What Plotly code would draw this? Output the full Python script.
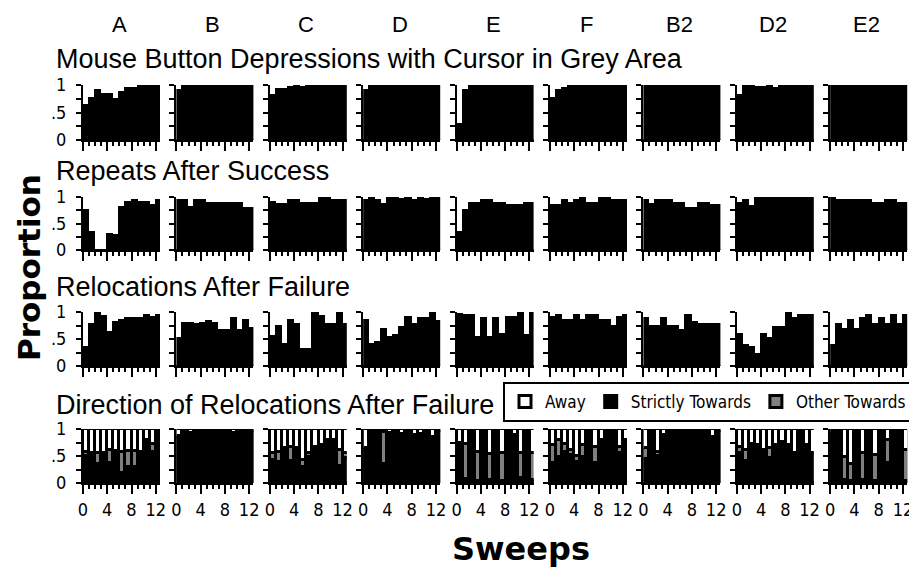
import plotly.graph_objects as go

# The page body has an 8px margin, so the figure is sized to fit the 917x569 window.
PAGE_MARGIN = 8
W, H = 917 - PAGE_MARGIN, 569 - PAGE_MARGIN

columns = ["A", "B", "C", "D", "E", "F", "B2", "D2", "E2"]
row_titles = [
    "Mouse Button Depressions with Cursor in Grey Area",
    "Repeats After Success",
    "Relocations After Failure",
    "Direction of Relocations After Failure",
]
sweeps = list(range(13))
x_tick_vals = [0, 4, 8, 12]
x_tick_text = ["0", "4", "8", "12"]
y_tick_vals = [0, 0.25, 0.5, 0.75, 1]
y_tick_text = ["0", "", ".5", "", "1"]

# Row 1: Mouse Button Depressions with Cursor in Grey Area (one list per column)
mouse_button = [
    [0.64, 0.77, 0.91, 0.83, 0.83, 0.74, 0.87, 0.95, 0.95, 1.0, 1.0, 1.0, 1.0],
    [0.91, 1.0, 1.0, 1.0, 1.0, 1.0, 1.0, 1.0, 1.0, 1.0, 1.0, 1.0, 1.0],
    [0.82, 0.92, 0.92, 0.97, 1.0, 0.97, 1.0, 1.0, 1.0, 1.0, 1.0, 1.0, 1.0],
    [0.91, 1.0, 1.0, 1.0, 1.0, 1.0, 1.0, 1.0, 1.0, 1.0, 1.0, 1.0, 1.0],
    [0.30, 0.91, 1.0, 1.0, 1.0, 1.0, 1.0, 1.0, 1.0, 1.0, 1.0, 1.0, 1.0],
    [0.77, 0.91, 0.95, 1.0, 1.0, 1.0, 1.0, 1.0, 1.0, 1.0, 1.0, 1.0, 1.0],
    [1.0, 1.0, 1.0, 1.0, 1.0, 1.0, 1.0, 1.0, 1.0, 1.0, 1.0, 1.0, 1.0],
    [0.82, 1.0, 1.0, 0.97, 0.97, 1.0, 0.95, 1.0, 1.0, 1.0, 1.0, 1.0, 1.0],
    [1.0, 1.0, 1.0, 1.0, 1.0, 1.0, 1.0, 1.0, 1.0, 1.0, 1.0, 1.0, 1.0],
]

# Row 2: Repeats After Success
repeats = [
    [0.75, 0.34, 0.0, 0.0, 0.31, 0.28, 0.81, 0.90, 0.94, 0.90, 0.90, 0.84, 0.94],
    [0.94, 0.94, 0.81, 0.94, 0.94, 0.89, 0.89, 0.89, 0.89, 0.89, 0.89, 0.80, 0.80],
    [0.90, 0.86, 0.86, 0.94, 0.94, 0.89, 0.89, 0.89, 0.99, 0.99, 0.94, 0.94, 0.94],
    [0.94, 0.99, 0.94, 0.86, 0.99, 0.99, 0.97, 0.99, 0.94, 0.99, 0.97, 0.99, 0.99],
    [0.34, 0.75, 0.89, 0.89, 0.94, 0.94, 0.89, 0.89, 0.84, 0.84, 0.84, 0.89, 0.89],
    [0.84, 0.84, 0.94, 0.89, 0.94, 0.99, 0.89, 0.89, 0.99, 0.99, 0.94, 0.94, 0.94],
    [0.94, 0.86, 0.94, 0.94, 0.94, 0.89, 0.89, 0.79, 0.79, 0.89, 0.89, 0.84, 0.84],
    [0.89, 0.94, 0.83, 0.99, 0.99, 0.99, 0.99, 0.99, 0.99, 0.99, 0.99, 0.99, 0.99],
    [1.0, 0.94, 0.94, 0.94, 0.94, 0.94, 0.94, 0.89, 0.89, 0.94, 0.94, 0.89, 0.89],
]

# Row 3: Relocations After Failure
relocations = [
    [0.35, 0.78, 0.98, 0.92, 0.63, 0.81, 0.85, 0.89, 0.89, 0.89, 0.94, 0.90, 0.94],
    [0.51, 0.80, 0.80, 0.77, 0.80, 0.83, 0.80, 0.66, 0.66, 0.89, 0.66, 0.85, 0.70],
    [0.55, 0.75, 0.40, 0.85, 0.77, 0.32, 0.32, 0.98, 0.92, 0.78, 0.78, 0.98, 0.78],
    [0.85, 0.40, 0.44, 0.69, 0.54, 0.57, 0.72, 0.90, 0.78, 0.89, 0.89, 0.98, 0.83],
    [0.97, 0.94, 0.94, 0.54, 0.88, 0.54, 0.88, 0.60, 0.91, 0.91, 0.98, 0.57, 0.98],
    [0.91, 0.94, 0.85, 0.85, 0.94, 0.85, 0.94, 0.94, 0.85, 0.85, 0.75, 0.91, 0.94],
    [0.88, 0.75, 0.75, 0.88, 0.75, 0.75, 0.66, 0.94, 0.81, 0.78, 0.78, 0.78, 0.78],
    [0.60, 0.38, 0.35, 0.23, 0.60, 0.51, 0.73, 0.73, 0.98, 0.89, 0.94, 0.94, 0.94],
    [0.38, 0.78, 0.69, 0.85, 0.69, 0.88, 0.94, 0.78, 0.88, 0.78, 0.94, 0.78, 0.94],
]

# Row 4: Direction of Relocations After Failure (stacked)
dir_strict = [
    [0.50, 0.55, 0.35, 0.55, 0.37, 0.55, 0.18, 0.30, 0.30, 0.57, 0.80, 0.58, 1.00],
    [0.85, 0.97, 0.93, 0.97, 0.95, 0.97, 0.95, 0.94, 0.97, 0.93, 0.97, 0.95, 0.97],
    [0.43, 0.38, 0.64, 0.40, 0.64, 0.30, 0.49, 0.67, 0.70, 0.79, 0.79, 0.31, 0.46],
    [0.64, 0.97, 0.97, 0.36, 0.93, 0.97, 0.90, 0.97, 0.88, 0.90, 0.97, 0.85, 0.97],
    [0.74, 0.08, 0.97, 0.03, 0.97, 0.06, 0.97, 0.03, 0.97, 0.88, 0.09, 0.97, 0.06],
    [0.37, 0.49, 0.58, 0.52, 0.38, 0.49, 0.97, 0.37, 0.80, 0.97, 0.97, 0.55, 0.80],
    [0.45, 0.97, 0.50, 0.88, 0.97, 0.94, 0.97, 0.95, 0.97, 0.94, 0.97, 0.85, 0.97],
    [0.55, 0.41, 0.73, 0.70, 0.58, 0.46, 0.70, 0.76, 0.70, 0.55, 0.97, 0.70, 0.55],
    [0.94, 0.97, 0.06, 0.03, 0.97, 0.06, 0.97, 0.03, 0.97, 0.37, 0.94, 0.97, 0.03],
]
dir_other = [
    [0.08, 0.00, 0.20, 0.00, 0.25, 0.05, 0.40, 0.30, 0.30, 0.00, 0.00, 0.15, 0.00],
    [0.02, 0.00, 0.00, 0.00, 0.00, 0.00, 0.00, 0.00, 0.00, 0.00, 0.00, 0.00, 0.00],
    [0.12, 0.20, 0.00, 0.27, 0.00, 0.12, 0.06, 0.00, 0.00, 0.00, 0.00, 0.30, 0.09],
    [0.00, 0.00, 0.00, 0.58, 0.00, 0.00, 0.00, 0.00, 0.00, 0.00, 0.00, 0.00, 0.00],
    [0.00, 0.64, 0.00, 0.55, 0.00, 0.48, 0.00, 0.52, 0.00, 0.00, 0.46, 0.00, 0.50],
    [0.33, 0.30, 0.15, 0.09, 0.12, 0.21, 0.00, 0.30, 0.00, 0.00, 0.00, 0.12, 0.00],
    [0.20, 0.00, 0.08, 0.00, 0.00, 0.00, 0.00, 0.00, 0.00, 0.00, 0.00, 0.00, 0.00],
    [0.12, 0.20, 0.00, 0.00, 0.03, 0.18, 0.00, 0.00, 0.00, 0.00, 0.00, 0.00, 0.00],
    [0.00, 0.00, 0.42, 0.33, 0.00, 0.49, 0.00, 0.48, 0.00, 0.43, 0.00, 0.00, 0.58],
]
dir_away = [
    [0.42, 0.45, 0.45, 0.45, 0.38, 0.40, 0.42, 0.40, 0.40, 0.43, 0.20, 0.27, 0.00],
    [0.13, 0.03, 0.07, 0.03, 0.05, 0.03, 0.05, 0.06, 0.03, 0.07, 0.03, 0.05, 0.03],
    [0.45, 0.42, 0.36, 0.33, 0.36, 0.58, 0.45, 0.33, 0.30, 0.21, 0.21, 0.39, 0.45],
    [0.36, 0.03, 0.03, 0.06, 0.07, 0.03, 0.10, 0.03, 0.12, 0.10, 0.03, 0.15, 0.03],
    [0.26, 0.28, 0.03, 0.42, 0.03, 0.46, 0.03, 0.45, 0.03, 0.12, 0.45, 0.03, 0.44],
    [0.30, 0.21, 0.27, 0.39, 0.50, 0.30, 0.03, 0.33, 0.20, 0.03, 0.03, 0.33, 0.20],
    [0.35, 0.03, 0.42, 0.12, 0.03, 0.06, 0.03, 0.05, 0.03, 0.06, 0.03, 0.15, 0.03],
    [0.33, 0.39, 0.27, 0.30, 0.39, 0.36, 0.30, 0.24, 0.30, 0.45, 0.03, 0.30, 0.45],
    [0.06, 0.03, 0.52, 0.64, 0.03, 0.45, 0.03, 0.49, 0.03, 0.20, 0.06, 0.03, 0.39],
]

# ---- geometry (screen pixels of the 917x569 window) ----
col_left = [83 + 93.4 * c for c in range(9)]
panel_w = 77
row_top = [85, 197, 312, 429]
row_bot = [140, 250, 366, 483]
title_y = [59, 171, 287, 405]


def px(x):
    return (x - PAGE_MARGIN) / W


def py(y):
    return 1 - (y - PAGE_MARGIN) / H


FONT = "Liberation Sans Narrow, DejaVu Sans Condensed, Liberation Sans, Arial, sans-serif"
FONT_REG = "Liberation Sans, Arial, sans-serif"
FONT_BOLD = "DejaVu Sans, Liberation Sans, sans-serif"

fig = go.Figure()
layout = {}

single_rows = [mouse_button, repeats, relocations]

for r in range(4):
    for c in range(9):
        k = r * 9 + c + 1
        xa = f"x{k}"
        ya = f"y{k}"
        layout[f"xaxis{k}"] = dict(
            domain=[px(col_left[c]), px(col_left[c] + panel_w)], anchor=ya,
            range=[0, 12.7],
            showline=True, linecolor="black", linewidth=2,
            showgrid=False, zeroline=False,
            tickmode="array", tickvals=x_tick_vals, ticktext=x_tick_text,
            ticks="outside", ticklen=9, tickwidth=2, tickcolor="black",
            minor=dict(dtick=1, tick0=0, ticks="outside", ticklen=4,
                       tickwidth=2, tickcolor="black", showgrid=False),
            showticklabels=(r == 3),
            tickfont=dict(family=FONT, size=18, color="black"),
            fixedrange=True, automargin=False,
        )
        layout[f"yaxis{k}"] = dict(
            domain=[py(row_bot[r]), py(row_top[r])], anchor=xa, range=[0, 1],
            showline=True, linecolor="black", linewidth=2,
            showgrid=False, zeroline=False,
            tickmode="array", tickvals=y_tick_vals, ticktext=y_tick_text,
            ticks="outside", ticklen=5, tickwidth=2, tickcolor="black",
            showticklabels=(c == 0), ticklabelstandoff=6,
            tickfont=dict(family=FONT, size=18, color="black"),
            fixedrange=True, automargin=False,
        )
        if r < 3:
            fig.add_trace(go.Bar(
                x=sweeps, y=single_rows[r][c], offset=0, width=1,
                marker=dict(color="black", line=dict(color="black", width=1)),
                xaxis=xa, yaxis=ya, showlegend=False, hoverinfo="skip",
            ))
        else:
            for name, vals, color, rank in [
                ("Strictly Towards", dir_strict[c], "black", 2),
                ("Other Towards", dir_other[c], "#7f7f7f", 3),
                ("Away", dir_away[c], "white", 1),
            ]:
                fig.add_trace(go.Bar(
                    x=sweeps, y=vals, offset=0, width=1, name=name,
                    marker=dict(color=color, line=dict(color="black", width=3)),
                    xaxis=xa, yaxis=ya, showlegend=(c == 0),
                    legendrank=rank, hoverinfo="skip",
                ))

annotations = []
for c, name in enumerate(columns):
    annotations.append(dict(
        text=name, x=px(col_left[c] + panel_w / 2 - 2), y=py(25),
        xref="paper", yref="paper", showarrow=False,
        xanchor="center", yanchor="middle",
        font=dict(family=FONT_REG, size=22, color="black"),
    ))
for r, t in enumerate(row_titles):
    annotations.append(dict(
        text=t, x=px(54), y=py(title_y[r]),
        xref="paper", yref="paper", showarrow=False,
        xanchor="left", yanchor="middle",
        font=dict(family=FONT_REG, size=27, color="black"),
    ))
annotations.append(dict(
    text="<b>Proportion</b>", x=px(29), y=py(268), textangle=-90,
    xref="paper", yref="paper", showarrow=False,
    xanchor="center", yanchor="middle",
    font=dict(family=FONT_BOLD, size=31, color="black"),
))
annotations.append(dict(
    text="<b>Sweeps</b>", x=px(521), y=py(549),
    xref="paper", yref="paper", showarrow=False,
    xanchor="center", yanchor="middle",
    font=dict(family=FONT_BOLD, size=32, color="black"),
))

fig.update_layout(
    **layout,
    width=W, height=H, autosize=False,
    margin=dict(l=0, r=0, t=0, b=0, autoexpand=False),
    paper_bgcolor="white", plot_bgcolor="white",
    barmode="stack", bargap=0,
    annotations=annotations,
    legend=dict(
        orientation="h", x=px(503), y=py(382),
        xanchor="left", yanchor="top", traceorder="normal",
        bordercolor="black", borderwidth=2, bgcolor="white",
        font=dict(family=FONT, size=17, color="black"),
        itemclick=False, itemdoubleclick=False,
    ),
)

fig.write_html("out.html")
